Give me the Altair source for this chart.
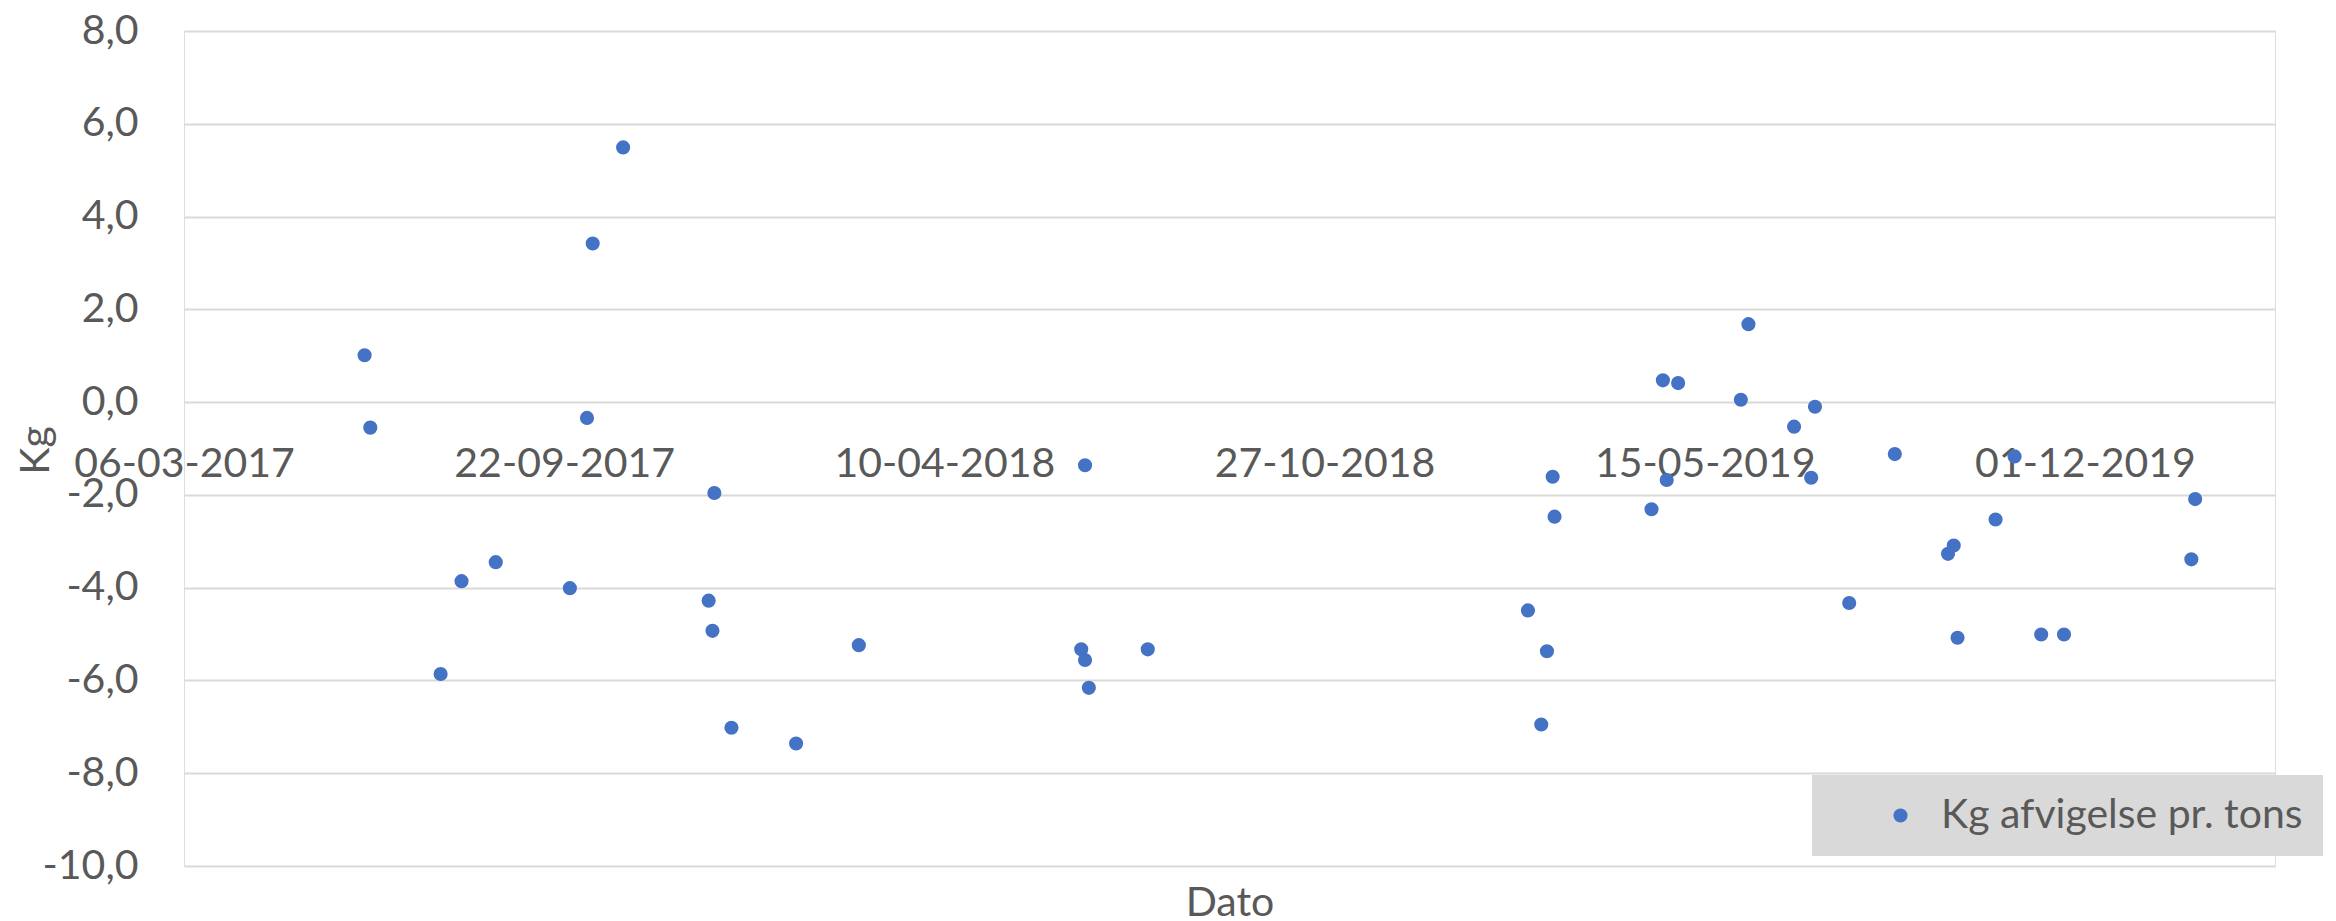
import altair as alt
import pandas as pd

# Data
dates = [
    "2017-06-09", "2017-06-12", "2017-07-19", "2017-07-30", "2017-08-17",
    "2017-09-25", "2017-10-04", "2017-10-07", "2017-10-23", "2017-12-07",
    "2017-12-09", "2017-12-10", "2017-12-19", "2018-01-22", "2018-02-24",
    "2018-06-21", "2018-06-23", "2018-06-23", "2018-06-25", "2018-07-26",
    "2019-02-11", "2019-02-18", "2019-02-21", "2019-02-24", "2019-02-25",
    "2019-04-17", "2019-04-23", "2019-04-25", "2019-05-01", "2019-06-03",
    "2019-06-07", "2019-07-01", "2019-07-10", "2019-07-12", "2019-07-30",
    "2019-08-23", "2019-09-20", "2019-09-23", "2019-09-25", "2019-10-15",
    "2019-10-25", "2019-11-08", "2019-11-20", "2020-01-26", "2020-01-28",
]
values = [
    1.01, -0.55, -5.86, -3.86, -3.45,
    -4.01, -0.34, 3.42, 5.49, -4.28,
    -4.93, -1.96, -7.02, -7.36, -5.24,
    -5.33, -1.36, -5.56, -6.16, -5.33,
    -4.49, -6.95, -5.37, -1.61, -2.47,
    -2.31, 0.47, -1.68, 0.41, 0.05,
    1.68, -0.53, -1.63, -0.10, -4.33,
    -1.12, -3.27, -3.09, -5.08, -2.53,
    -1.17, -5.01, -5.01, -3.39, -2.09,
]
series_name = "Kg afvigelse pr. tons"
x_tick_dates = [(2017, 3, 6), (2017, 9, 22), (2018, 4, 10), (2018, 10, 27), (2019, 5, 15), (2019, 12, 1)]
x_domain = [(2017, 3, 6), (2020, 3, 10)]
y_ticks = [-10, -8, -6, -4, -2, 0, 2, 4, 6, 8]

df = pd.DataFrame({"Dato": dates, "Kg": values, "serie": [series_name] * len(dates)})

def dt(t):
    return alt.DateTime(year=t[0], month=t[1], date=t[2], utc=True)

TEXT = "#595959"
FONT = "Lato"
FS = 41

chart = alt.Chart(df).mark_circle(size=200, opacity=1).encode(
    x=alt.X(
        "Dato:T",
        scale=alt.Scale(type="utc", domain=[dt(d) for d in x_domain], nice=False),
        axis=alt.Axis(
            values=[dt(d) for d in x_tick_dates],
            format="%d-%m-%Y",
            labelFlush=False,
            labelOverlap=False,
            labelLimit=0,
            grid=False,
            domain=False,
            ticks=False,
            tickSize=0,
            offset=-464,
            labelPadding=62,
            labelBaseline="middle",
            labelFontSize=FS,
            labelColor=TEXT,
            labelFont=FONT,
            title="Dato",
            titleY=513,
            titleBaseline="alphabetic",
            titleFontSize=FS,
            titleColor=TEXT,
            titleFont=FONT,
            titleFontWeight="normal",
        ),
    ),
    y=alt.Y(
        "Kg:Q",
        scale=alt.Scale(domain=[-10, 8], nice=False, zero=False),
        axis=alt.Axis(
            values=y_ticks,
            labelExpr="replace(replace(format(datum.value, '.1f'), '.', ','), '\u2212', '-')",
            grid=True,
            gridColor="#d9d9d9",
            gridWidth=2,
            domain=False,
            ticks=False,
            tickSize=0,
            labelPadding=46,
            labelLimit=0,
            labelFontSize=FS,
            labelColor=TEXT,
            labelFont=FONT,
            title="Kg",
            titleAngle=270,
            titleX=-148,
            titleY=419,
            titleAlign="center",
            titleBaseline="middle",
            titleFontSize=FS,
            titleColor=TEXT,
            titleFont=FONT,
            titleFontWeight="normal",
        ),
    ),
    color=alt.Color(
        "serie:N",
        scale=alt.Scale(domain=[series_name], range=["#4472C4"]),
        legend=alt.Legend(
            title=None,
            orient="none",
            legendX=1628,
            legendY=744,
            fillColor="#d9d9d9",
            padding=20,
            symbolOffset=48,
            labelOffset=20,
            labelLimit=0,
            symbolType="circle",
            symbolSize=200,
            symbolOpacity=1,
            labelFontSize=FS,
            labelColor=TEXT,
            labelFont=FONT,
        ),
    ),
).properties(
    width=2091,
    height=835,
    autosize=alt.AutoSizeParams(type="none"),
    padding={"left": 176, "top": 23, "right": 53, "bottom": 55},
).configure_view(
    stroke=None
).configure(
    font=FONT
)

chart.save("out.html", embed_options={"renderer": "svg", "actions": False})
